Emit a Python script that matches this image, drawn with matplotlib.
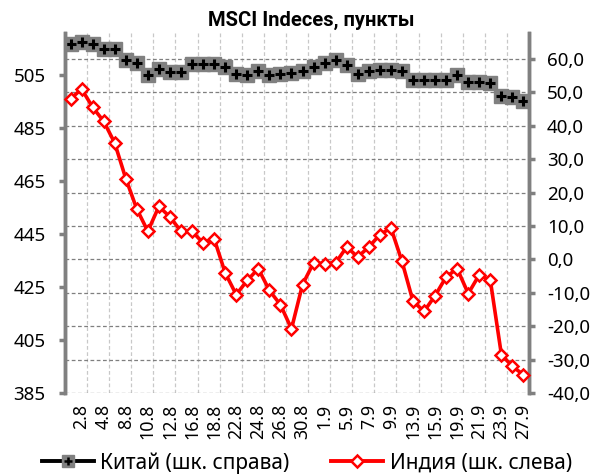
import matplotlib
matplotlib.use("Agg")
import matplotlib.pyplot as plt
from matplotlib.lines import Line2D
from matplotlib.legend_handler import HandlerTuple
from matplotlib.ticker import FixedLocator, FuncFormatter

plt.rcParams['font.family'] = ['Noto Sans', 'DejaVu Sans']

dates = ["1.8", "2.8", "3.8", "4.8", "5.8", "8.8", "9.8", "10.8", "11.8", "12.8",
         "15.8", "16.8", "17.8", "18.8", "19.8", "22.8", "23.8", "24.8", "25.8", "26.8",
         "29.8", "30.8", "31.8", "1.9", "2.9", "5.9", "6.9", "7.9", "8.9", "9.9",
         "12.9", "13.9", "14.9", "15.9", "16.9", "19.9", "20.9", "21.9", "22.9", "23.9",
         "26.9", "27.9"]

india = [495.9, 499.7, 492.8, 487.5, 479.3, 465.9, 454.4, 446.0, 455.4, 451.4,
         446.0, 446.0, 441.6, 443.2, 430.3, 422.1, 427.5, 431.9, 423.7, 418.3,
         409.2, 425.9, 434.1, 433.8, 434.1, 440.1, 436.3, 440.1, 444.7, 447.3,
         434.7, 419.6, 415.8, 421.7, 428.8, 431.9, 422.5, 429.6, 427.5, 399.5,
         395.0, 391.9]

china = [64.6, 65.1, 64.6, 62.9, 62.9, 59.8, 58.8, 55.1, 57.1, 56.1,
         56.1, 58.6, 58.6, 58.6, 57.6, 55.4, 55.1, 56.4, 55.1, 55.6,
         55.8, 56.3, 57.6, 58.8, 59.6, 58.1, 55.6, 56.3, 56.6, 56.8,
         56.3, 53.6, 53.6, 53.6, 53.6, 55.1, 53.1, 53.1, 52.8, 48.8,
         48.6, 47.4]

title = "MSCI Indeces, пункты"
label_china = "Китай (шк. справа)"
label_india = "Индия (шк. слева)"

left_ticks = [385, 405, 425, 445, 465, 485, 505]
right_ticks = [-40, -30, -20, -10, 0, 10, 20, 30, 40, 50, 60]

W, H = 596, 474
fig = plt.figure(figsize=(W / 100, H / 100), dpi=100)
ax2 = fig.add_axes([65 / W, 1 - 393 / H, 464 / W, 360 / H])
ax = ax2.twinx()
ax.yaxis.tick_left()
ax.yaxis.set_label_position('left')
ax2.yaxis.tick_right()

x = list(range(len(dates)))
gray = '#808080'

# China on right axis
ax2.plot(x, china, color='black', lw=2, marker='s', ms=10, mfc=gray, mec=gray, zorder=3)
ax2.plot(x, china, ls='none', marker='+', ms=7.5, mew=2.2, color='black', zorder=4)
ax2.set_ylim(-40, 67.8)
ax2.set_xlim(-0.5, len(dates) - 0.5)

# India on left axis
ax.plot(x, india, color='red', lw=2.6, marker='D', ms=6, mfc='white', mec='red', mew=1.8,
        zorder=5, clip_on=False)
ax.set_ylim(385, 520.8)

# grids
ax2.set_axisbelow(True)
ax2.yaxis.set_major_locator(FixedLocator(right_ticks))
ax2.yaxis.set_major_formatter(FuncFormatter(lambda v, p: f"{v:.1f}".replace('.', ',')))
ax2.yaxis.grid(True, color='#7f7f7f', ls=(0, (3, 2)), lw=0.9)
ax2.xaxis.set_minor_locator(FixedLocator([i + 0.5 for i in range(1, len(dates) - 1, 2)]))
ax2.xaxis.grid(True, which='minor', color='#c8c8c8', ls=(0, (3, 2)), lw=0.9)
ax2.xaxis.set_major_locator(FixedLocator(x[1::2]))
ax2.set_xticklabels(dates[1::2], rotation=90, fontsize=12.8)
ax2.tick_params(axis='x', which='both', length=0, pad=8)

ax.yaxis.set_major_locator(FixedLocator(left_ticks))
ax.tick_params(axis='y', direction='out', length=4, width=2.5, color=gray, labelsize=13.5, pad=10)
ax2.tick_params(axis='y', direction='out', length=4, width=2.5, color=gray, labelsize=13.5, pad=9)

for a in (ax, ax2):
    a.spines['top'].set_visible(False)
    a.spines['bottom'].set_visible(False)
    a.spines['left'].set_color(gray)
    a.spines['right'].set_color(gray)
    a.spines['left'].set_linewidth(2.5)
    a.spines['right'].set_linewidth(2.5)
    a.patch.set_visible(False)

fig.text(311 / W, 1 - 20 / H, title, ha='center', va='center', fontsize=14.5,
         fontweight='bold', family=['Roboto', 'DejaVu Sans'])

h_china = (Line2D([], [], color='black', lw=2.8, marker='s', ms=8, mfc=gray, mec=gray),
           Line2D([], [], ls='none', marker='+', ms=6, mew=1.8, color='black'))
h_india = Line2D([], [], color='red', lw=2.8, marker='D', ms=6, mfc='white', mec='red', mew=1.8)
fig.legend([h_china, h_india], [label_china, label_india],
           handler_map={tuple: HandlerTuple(ndivide=1)},
           loc='center', bbox_to_anchor=(307 / W, 1 - 463 / H), ncol=2, frameon=False,
           fontsize=15, handlelength=2.5, columnspacing=2.0, handletextpad=0.3,
           borderpad=0.1)

fig.savefig('out.png', dpi=100)
